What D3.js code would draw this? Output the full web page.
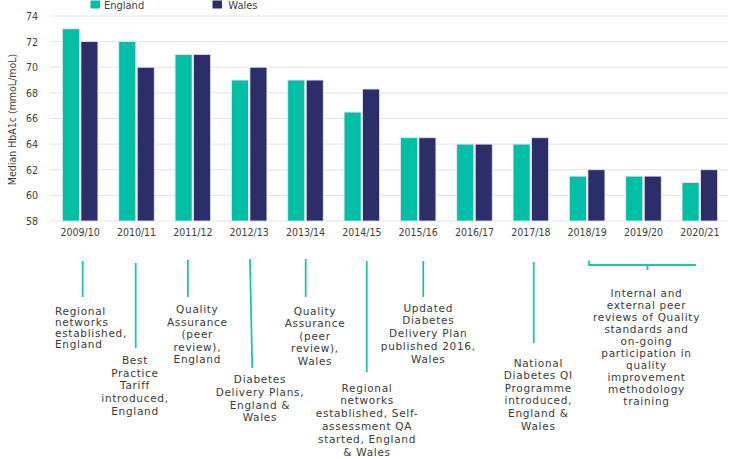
<!DOCTYPE html>
<html>
<head>
<meta charset="utf-8">
<script src="https://cdn.jsdelivr.net/npm/d3@7"></script>
<style>
  html, body { margin: 0; padding: 0; background: #fff; }
  svg { display: block; }
</style>
</head>
<body>
<svg id="chart" width="734" height="459"></svg>
<script>
// ---- data ----
const categories = ["2009/10","2010/11","2011/12","2012/13","2013/14","2014/15","2015/16","2016/17","2017/18","2018/19","2019/20","2020/21"];
const seriesNames = ["England","Wales"];
const englandValues = [73, 72, 71, 69, 69, 66.5, 64.5, 64, 64, 61.5, 61.5, 61];
const walesValues   = [72, 70, 71, 70, 69, 68.3, 64.5, 64, 64.5, 62, 61.5, 62];
const yTicks = [58, 60, 62, 64, 66, 68, 70, 72, 74];
const yTitle = "Median HbA1c (mmoL/moL)";

// annotation texts (category index they refer to)
const annotationCats = [0, 1, 2, 3, 4, 5, 6, 8];
const annotationTexts = [
  ["Regional", "networks", "established,", "England"],
  ["Best", "Practice", "Tariff", "introduced,", "England"],
  ["Quality", "Assurance", "(peer", "review),", "England"],
  ["Diabetes", "Delivery Plans,", "England &", "Wales"],
  ["Quality", "Assurance", "(peer", "review),", "Wales"],
  ["Regional", "networks", "established, Self-", "assessment QA", "started, England", "& Wales"],
  ["Updated", "Diabetes", "Delivery Plan", "published 2016,", "Wales"],
  ["National", "Diabetes QI", "Programme", "introduced,", "England &", "Wales"]
];
const bracketCats = [9, 11];
const bracketText = ["Internal and", "external peer", "reviews of Quality", "standards and", "on-going", "participation in", "quality", "improvement", "methodology", "training"];

// ---- layout (styles / positions) ----
const colors = { England: "#00BFA6", Wales: "#2C2E6A" };
const margin = { left: 52, right: 6, top: 16, bottom: 238 };
const W = 734, H = 459;
const plotBottom = 221;

// per-annotation layout: line x offset from cat center, line top/bottom, text x offset, text anchor, first baseline, line height
const annLayout = [
  { dx: 2.5, dx2: 2.5, y0: 261, y1: 297, tx: 55, anchor: "start", ty: 315, lh: 11.1 },
  { dx: -0.8, dx2: -0.8, y0: 263, y1: 348, tx: null, tdx: -1.5, anchor: "middle", ty: 364, lh: 12.7 },
  { dx: -5, dx2: -5, y0: 260, y1: 297, tx: null, tdx: 4.5, anchor: "middle", ty: 313, lh: 12.5 },
  { dx: 0.8, dx2: 3.1, y0: 259, y1: 368, tx: null, tdx: 10.8, anchor: "middle", ty: 383, lh: 12.75 },
  { dx: 0.2, dx2: 0.2, y0: 259, y1: 297, tx: null, tdx: 9.5, anchor: "middle", ty: 314.5, lh: 12.65 },
  { dx: 4.9, dx2: 4.9, y0: 261, y1: 372, tx: null, tdx: 5.2, anchor: "middle", ty: 391.5, lh: 12.8 },
  { dx: 5.1, dx2: 5.1, y0: 261, y1: 297, tx: null, tdx: 10.1, anchor: "middle", ty: 311.5, lh: 12.75 },
  { dx: 2.9, dx2: 2.9, y0: 262, y1: 343, tx: null, tdx: 7.5, anchor: "middle", ty: 366.5, lh: 12.6 }
];

const svg = d3.select("#chart");

const x0 = d3.scaleBand()
  .domain(categories)
  .range([margin.left, W - margin.right])
  .paddingInner(0.37)
  .paddingOuter(0.185);

const x1 = d3.scaleBand()
  .domain(seriesNames)
  .range([0, x0.bandwidth()])
  .paddingInner(0.08);

const y = d3.scaleLinear()
  .domain([58, 74])
  .range([plotBottom, margin.top]);

const textColor = "#3d3d3d";
const tickFont = "'DejaVu Sans Condensed', 'DejaVu Sans', sans-serif";

// gridlines
svg.append("g")
  .selectAll("line")
  .data(yTicks)
  .join("line")
  .attr("x1", margin.left - 2)
  .attr("x2", W - 6)
  .attr("y1", d => y(d))
  .attr("y2", d => y(d))
  .attr("stroke", "#e3e3e3")
  .attr("stroke-width", 1);

// y axis labels
const yAxis = d3.axisLeft(y).tickValues(yTicks).tickSize(0).tickPadding(0).tickFormat(d3.format("d"));
const gy = svg.append("g").attr("transform", `translate(38,0)`).call(yAxis);
gy.select(".domain").remove();
gy.selectAll("text")
  .attr("font-family", tickFont)
  .attr("font-size", 10.5)
  .attr("fill", textColor);

// y title
svg.append("text")
  .attr("transform", `translate(16,${(margin.top + plotBottom) / 2 + 1}) rotate(-90)`)
  .attr("text-anchor", "middle")
  .attr("font-family", tickFont)
  .attr("font-size", 10.5)
  .attr("fill", textColor)
  .text(yTitle);

// bars
const rows = categories.map((c, i) => ({ cat: c, values: [
  { key: "England", value: englandValues[i] },
  { key: "Wales", value: walesValues[i] }
]}));

svg.append("g")
  .selectAll("g")
  .data(rows)
  .join("g")
  .attr("transform", d => `translate(${x0(d.cat)},0)`)
  .selectAll("rect")
  .data(d => d.values)
  .join("rect")
  .attr("x", d => x1(d.key))
  .attr("width", x1.bandwidth())
  .attr("y", d => y(d.value))
  .attr("height", d => y(58) - y(d.value))
  .attr("fill", d => colors[d.key])
  .attr("stroke", "#e6e6ee")
  .attr("stroke-width", 0.8);

// x axis labels
const xAxis = d3.axisBottom(x0).tickSize(0).tickPadding(0);
const gx = svg.append("g").attr("transform", `translate(0,${plotBottom + 15})`).call(xAxis);
gx.select(".domain").remove();
gx.selectAll("text")
  .attr("dy", 0)
  .attr("font-family", tickFont)
  .attr("font-size", 10.5)
  .attr("fill", textColor);

// legend
const legendX = { England: 90.5, Wales: 212.5 };
const lg = svg.append("g");
seriesNames.forEach(s => {
  lg.append("rect").attr("x", legendX[s]).attr("y", 0.5).attr("width", 9.5).attr("height", 8)
    .attr("fill", colors[s]);
  lg.append("text").attr("x", legendX[s] + (s === "England" ? 13.5 : 15.8)).attr("y", 9)
    .attr("font-family", tickFont).attr("font-size", 11).attr("fill", textColor).text(s);
});

// annotations
const annFont = "'DejaVu Sans', sans-serif";
const annColor = "#3a3a3a";
const lineColor = "#1EC3AE";
const ag = svg.append("g");
annotationCats.forEach((ci, k) => {
  const L = annLayout[k];
  const cx = x0(categories[ci]) + x0.bandwidth() / 2;
  ag.append("line")
    .attr("x1", cx + L.dx).attr("x2", cx + L.dx2)
    .attr("y1", L.y0).attr("y2", L.y1)
    .attr("stroke", lineColor).attr("stroke-width", 1.8);
  const tx = L.tx !== null ? L.tx : cx + L.tdx;
  const t = ag.append("text")
    .attr("font-family", annFont)
    .attr("font-size", 10.5)
    .attr("letter-spacing", 0.7)
    .attr("fill", annColor)
    .attr("text-anchor", L.anchor);
  annotationTexts[k].forEach((line, j) => {
    t.append("tspan").attr("x", tx).attr("y", L.ty + j * L.lh).text(line);
  });
});

// bracket for last group
{
  const bx0 = x0(categories[bracketCats[0]]) + x0.bandwidth() / 2 + 2;
  const bx1 = x0(categories[bracketCats[1]]) + x0.bandwidth() / 2 - 4;
  const bmid = (bx0 + bx1) / 2 + 5;
  const by = 265;
  ag.append("path")
    .attr("d", `M${bx0},${by - 4.5} L${bx0},${by} L${bx1},${by} M${bmid},${by} L${bmid},${by + 5}`)
    .attr("fill", "none").attr("stroke", lineColor).attr("stroke-width", 1.8);
  const t = ag.append("text")
    .attr("font-family", annFont)
    .attr("font-size", 10.5)
    .attr("letter-spacing", 0.7)
    .attr("fill", annColor)
    .attr("text-anchor", "middle");
  bracketText.forEach((line, j) => {
    t.append("tspan").attr("x", bmid - 1).attr("y", 296.5 + j * 12).text(line);
  });
}
</script>
</body>
</html>
